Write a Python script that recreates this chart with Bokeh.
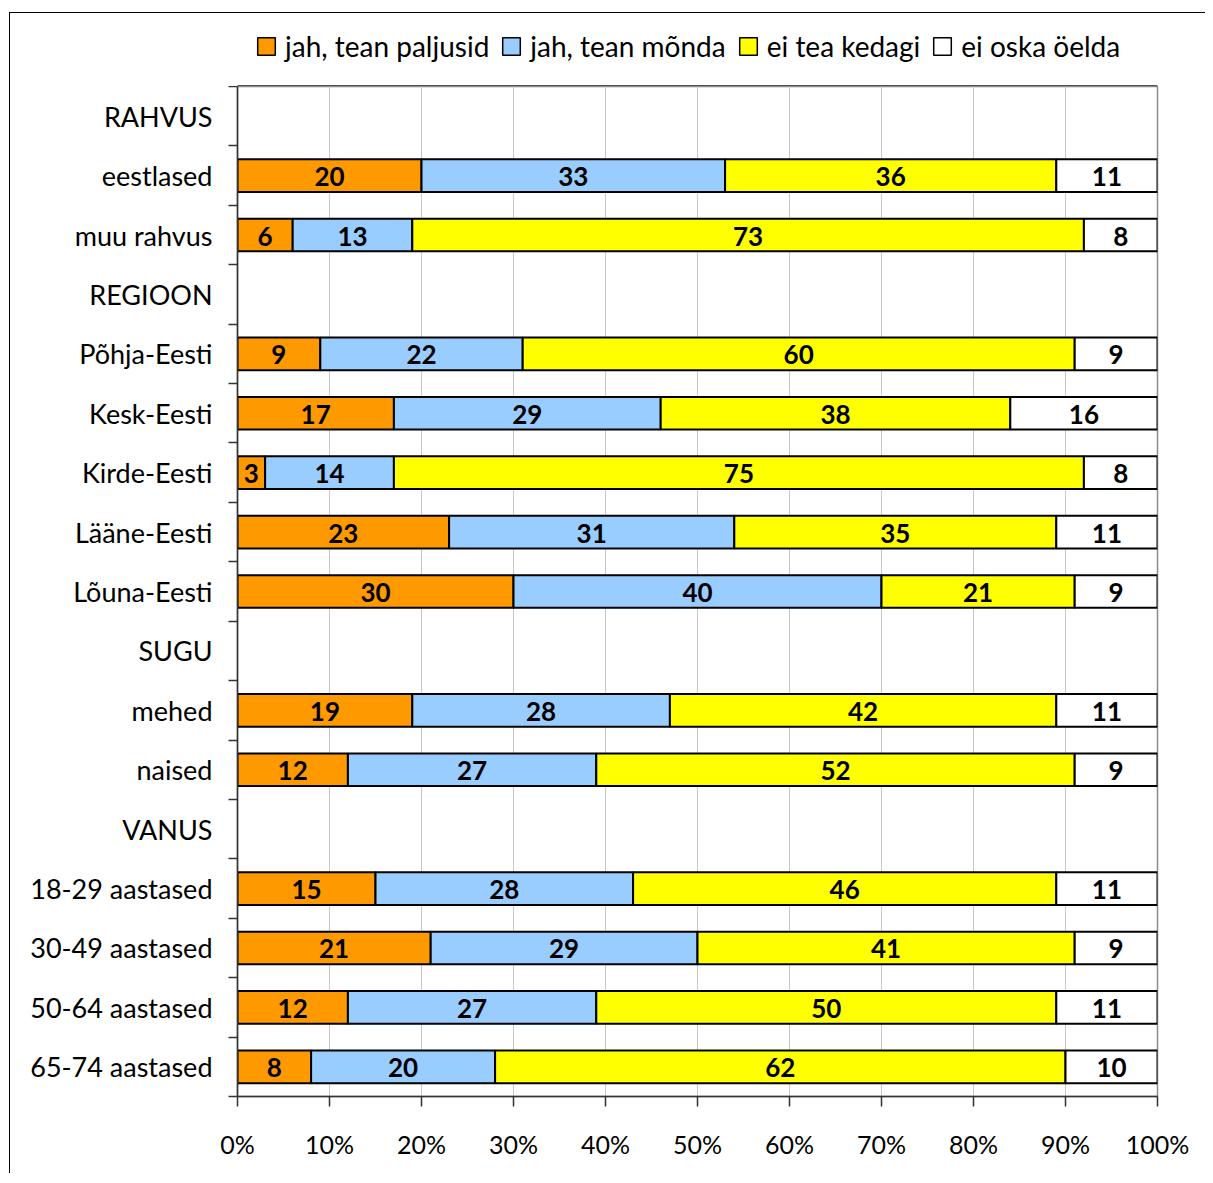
from bokeh.plotting import figure
from bokeh.layouts import column
from bokeh.models import ColumnDataSource, FixedTicker, Legend, LegendItem, Range1d
from bokeh.core.properties import value
from bokeh.embed import file_html
from bokeh.resources import INLINE

categories = ["RAHVUS", "eestlased", "muu rahvus", "REGIOON", "Põhja-Eesti", "Kesk-Eesti",
              "Kirde-Eesti", "Lääne-Eesti", "Lõuna-Eesti", "SUGU", "mehed", "naised",
              "VANUS", "18-29 aastased", "30-49 aastased", "50-64 aastased", "65-74 aastased"]
tean_paljusid = [None, 20, 6, None, 9, 17, 3, 23, 30, None, 19, 12, None, 15, 21, 12, 8]
tean_monda = [None, 33, 13, None, 22, 29, 14, 31, 40, None, 28, 27, None, 28, 29, 27, 20]
ei_tea = [None, 36, 73, None, 60, 38, 75, 35, 21, None, 42, 52, None, 46, 41, 50, 62]
ei_oska = [None, 11, 8, None, 9, 16, 8, 11, 9, None, 11, 9, None, 11, 9, 11, 10]
series_names = ["jah, tean paljusid", "jah, tean mõnda", "ei tea kedagi", "ei oska öelda"]
series_colors = ["#FF9900", "#99CCFF", "#FFFF00", "#FFFFFF"]
x_ticks = [0, 10, 20, 30, 40, 50, 60, 70, 80, 90, 100]
x_tick_labels = ["0%", "10%", "20%", "30%", "40%", "50%", "60%", "70%", "80%", "90%", "100%"]

FONT = "Lato"
n = len(categories)
ypos = [n - i - 0.5 for i in range(n)]

# ---- legend strip (frame aligned with the chart frame by the column) ----
lg = figure(width=1195, height=73, output_backend="svg", toolbar_location=None,
            x_range=Range1d(0, 1), y_range=Range1d(0, 1),
            min_border_left=0, min_border_right=0, min_border_top=0, min_border_bottom=0)
lg.axis.visible = False
lg.grid.grid_line_color = None
lg.outline_line_color = None
lg.background_fill_color = "white"
lg.border_fill_color = "white"
legend_items = []
for name, col in zip(series_names, series_colors):
    # hidden proxy bar (outside the strip's visible range) used only for the legend swatch
    r = lg.hbar(y=[-5], left=[0], right=[1], height=0.5, fill_color=col,
                line_color="#000000", line_width=1.5)
    legend_items.append(LegendItem(label=name, renderers=[r]))
legend = Legend(items=legend_items, orientation="horizontal", location=(18, 23))
legend.glyph_width = 22
legend.glyph_height = 22
legend.label_standoff = 8
legend.spacing = 11
legend.padding = 0
legend.margin = 0
legend.border_line_color = None
legend.background_fill_alpha = 0
legend.label_text_font = FONT
legend.label_text_font_size = "28px"
legend.label_text_color = "black"
legend.label_height = 30
lg.add_layout(legend, "center")

# ---- main chart ----
p = figure(width=1195, height=1087, output_backend="svg", toolbar_location=None,
           x_range=Range1d(0, 100), y_range=Range1d(0, n),
           min_border_left=227, min_border_right=48, min_border_top=0, min_border_bottom=77)
p.background_fill_color = "white"
p.border_fill_color = "white"
p.outline_line_color = "#8c8c8c"
p.outline_line_width = 1.5

all_series = [tean_paljusid, tean_monda, ei_tea, ei_oska]
for s_idx, (vals, name, col) in enumerate(zip(all_series, series_names, series_colors)):
    lefts, rights, ys, labs, mids = [], [], [], [], []
    for i in range(n):
        if vals[i] is None:
            continue
        left = sum(all_series[k][i] for k in range(s_idx))
        right = left + vals[i]
        lefts.append(left)
        rights.append(right)
        ys.append(ypos[i])
        labs.append(str(vals[i]))
        mids.append((left + right) / 2)
    src = ColumnDataSource(dict(left=lefts, right=rights, y=ys, lab=labs, mid=mids))
    p.hbar(y="y", left="left", right="right", height=0.55, source=src,
           fill_color=col, line_color="#000000", line_width=2)
    p.text(x="mid", y="y", text="lab", source=src, text_align="center", text_baseline="middle",
           text_font=value(FONT), text_font_style="bold", text_font_size="26px", text_color="black",
           y_offset=1)

# x axis
p.xaxis.ticker = FixedTicker(ticks=x_ticks)
p.xaxis.major_label_overrides = {t: l for t, l in zip(x_ticks, x_tick_labels)}
p.xaxis.major_tick_out = 10
p.xaxis.major_tick_in = 0
p.xaxis.minor_tick_out = 0
p.xaxis.minor_tick_in = 0
p.xaxis.axis_line_color = "#333333"
p.xaxis.axis_line_width = 1.5
p.xaxis.major_tick_line_color = "#333333"
p.xaxis.major_tick_line_width = 1.5
p.xaxis.major_label_standoff = 22
p.xaxis.major_label_text_font = FONT
p.xaxis.major_label_text_font_size = "25px"
p.xaxis.major_label_text_color = "black"

# y axis
p.yaxis.ticker = FixedTicker(ticks=ypos, minor_ticks=list(range(n + 1)))
p.yaxis.major_label_overrides = {y: c for y, c in zip(ypos, categories)}
p.yaxis.major_tick_out = 0
p.yaxis.major_tick_in = 0
p.yaxis.minor_tick_out = 9
p.yaxis.minor_tick_in = 0
p.yaxis.minor_tick_line_color = "#333333"
p.yaxis.minor_tick_line_width = 1.5
p.yaxis.axis_line_color = "#333333"
p.yaxis.axis_line_width = 1.5
p.yaxis.major_label_standoff = 16
p.yaxis.major_label_text_font = FONT
p.yaxis.major_label_text_font_size = "27px"
p.yaxis.major_label_text_color = "black"

p.xgrid.ticker = FixedTicker(ticks=x_ticks)
p.xgrid.grid_line_color = "#c8c8c8"
p.xgrid.grid_line_width = 1
p.ygrid.grid_line_color = None

layout = column(lg, p, spacing=0)
layout.styles = {"border-left": "1px solid black", "border-top": "1px solid black",
                 "margin-top": "12px", "margin-left": "9px"}

open("out.html", "w").write(file_html(layout, INLINE))
